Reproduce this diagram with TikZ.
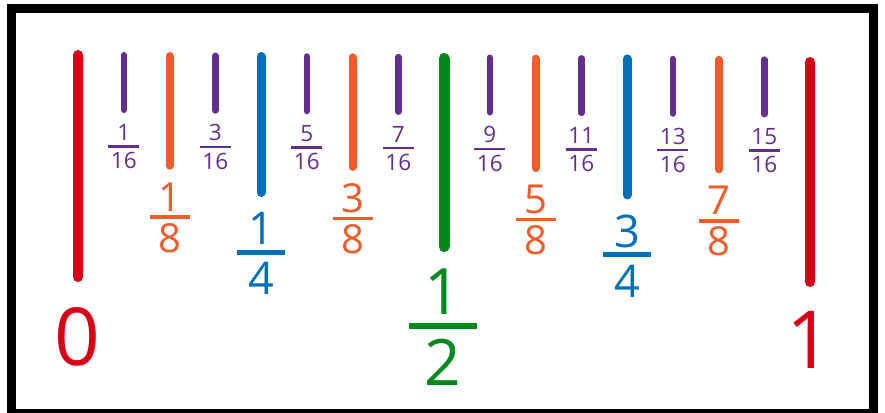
\documentclass[tikz,border=0pt]{standalone}
\usepackage{fontspec}
\setmainfont{Open Sans}
\definecolor{rred}{RGB}{215,0,22}
\definecolor{oorange}{RGB}{241,90,41}
\definecolor{ppurple}{RGB}{102,45,145}
\definecolor{bblue}{RGB}{0,112,186}
\definecolor{ggreen}{RGB}{0,138,30}
\tikzset{
  tk/.style={line cap=butt},
  dig/.style={inner sep=0pt, outer sep=0pt},
}
\begin{document}
\begin{tikzpicture}[x=1pt,y=-1pt]
\useasboundingbox (0,0) rectangle (885,412);
\fill[white] (0,0) rectangle (885,412);
\draw[line width=9pt] (11.5,8.5) rectangle (873,413);

% whole numbers
\coordinate (z0t) at (78,55); \coordinate (z0b) at (78,277);
\draw[rred, line width=10pt, line cap=round] (z0t) -- (z0b);
\node[dig, rred, anchor=base, font=\fontsize{80}{90}\selectfont] (l0) at (77,365.5) {0};
\coordinate (z1t) at (810,62); \coordinate (z1b) at (810,282);
\draw[rred, line width=10pt, line cap=round] (z1t) -- (z1b);
\node[dig, rred, anchor=base, font=\fontsize{80}{90}\selectfont] (l1) at (809,368) {1};

% sixteenths
\foreach \n in {1,3,...,15} {
  \pgfmathsetmacro\xx{78+732*\n/16}
  \pgfmathsetmacro\dy{5*\n/16}
  \coordinate (s\n t) at (\xx,51.7+3.25+\dy);
  \coordinate (s\n b) at (\xx,112.7-3.25+\dy);
  \draw[ppurple, line width=6.5pt, line cap=round] (s\n t) -- (s\n b);
  \node[dig, ppurple, anchor=base, font=\fontsize{22.5}{26}\selectfont] (sn\n) at (\xx,140+\dy) {\n};
  \coordinate (sbl\n) at (\xx-15.5,146+\dy);
  \coordinate (sbr\n) at (\xx+15.5,146+\dy);
  \draw[ppurple, line width=2.5pt] (sbl\n) -- (sbr\n);
  \node[dig, ppurple, anchor=north, font=\fontsize{22.5}{26}\selectfont] (sd\n) at (\xx,152+\dy) {16};
}

% eighths
\foreach \n in {1,3,5,7} {
  \pgfmathsetmacro\xx{78+732*\n/8}
  \pgfmathsetmacro\dy{5*\n/8}
  \coordinate (e\n t) at (\xx,51.5+4+\dy);
  \coordinate (e\n b) at (\xx,169-4+\dy);
  \draw[oorange, line width=8pt, line cap=round] (e\n t) -- (e\n b);
  \node[dig, oorange, anchor=base, font=\fontsize{40}{46}\selectfont] (en\n) at (\xx,210.5+\dy) {\n};
  \coordinate (ebl\n) at (\xx-20,216.5+\dy);
  \coordinate (ebr\n) at (\xx+20,216.5+\dy);
  \draw[oorange, line width=3.5pt] (ebl\n) -- (ebr\n);
  \node[dig, oorange, anchor=north, font=\fontsize{40}{46}\selectfont] (ed\n) at (\xx,222.5+\dy) {8};
}

% quarters
\foreach \n in {1,3} {
  \pgfmathsetmacro\xx{78+732*\n/4}
  \pgfmathsetmacro\dy{5*\n/4}
  \coordinate (q\n t) at (\xx,50.7+4.5+\dy);
  \coordinate (q\n b) at (\xx,195.7-4.5+\dy);
  \draw[bblue, line width=9pt, line cap=round] (q\n t) -- (q\n b);
  \node[dig, bblue, anchor=base, font=\fontsize{45}{52}\selectfont] (qn\n) at (\xx,243.3+\dy) {\n};
  \coordinate (qbl\n) at (\xx-24,250.8+\dy);
  \coordinate (qbr\n) at (\xx+24,250.8+\dy);
  \draw[bblue, line width=5pt] (qbl\n) -- (qbr\n);
  \node[dig, bblue, anchor=north, font=\fontsize{45}{52}\selectfont] (qd\n) at (\xx,261.4+\dy) {4};
}

% half
\coordinate (ht) at (444,53+5.5); \coordinate (hb) at (444,252-5.5);
\draw[ggreen, line width=11pt, line cap=round] (ht) -- (hb);
\node[dig, ggreen, anchor=base, font=\fontsize{64}{72}\selectfont] (hn) at (443,314.3) {1};
\coordinate (hbl) at (409,325.5); \coordinate (hbr) at (477,325.5);
\draw[ggreen, line width=6pt] (hbl) -- (hbr);
\node[dig, ggreen, anchor=north, font=\fontsize{64}{72}\selectfont] (hd) at (443,339) {2};
\end{tikzpicture}
\end{document}
